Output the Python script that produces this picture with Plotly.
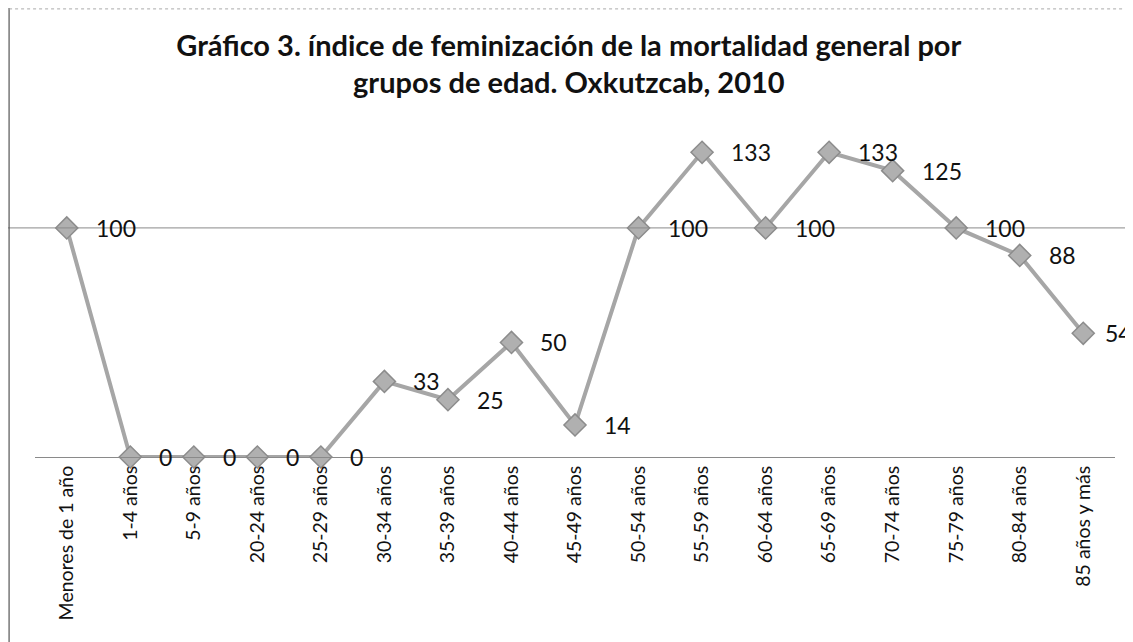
import plotly.graph_objects as go

categories = ["Menores de 1 año", "1-4 años", "5-9 años", "20-24 años", "25-29 años",
              "30-34 años", "35-39 años", "40-44 años", "45-49 años", "50-54 años",
              "55-59 años", "60-64 años", "65-69 años", "70-74 años", "75-79 años",
              "80-84 años", "85 años y más"]
values = [100, 0, 0, 0, 0, 33, 25, 50, 14, 100, 133, 100, 133, 125, 100, 88, 54]

FONT = "Lato, Open Sans, Liberation Sans"

fig = go.Figure()
fig.add_trace(go.Scatter(
    x=categories, y=values, mode="lines+markers",
    line=dict(color="#a6a6a6", width=4),
    marker=dict(symbol="diamond", size=17, color="#b0b0b0",
                line=dict(color="#8c8c8c", width=1.5)),
    cliponaxis=False, showlegend=False,
))

for i, (c, v) in enumerate(zip(categories, values)):
    fig.add_annotation(x=c, y=v, text=str(v), showarrow=False,
                       xanchor="left", yanchor="middle",
                       xshift=(27 if i < len(values) - 1 else 20),
                       font=dict(family=FONT, size=23, color="#111"))

# gridline at 100 spanning the chart area
fig.add_shape(type="line", xref="paper", yref="y", x0=-0.026, x1=1.03, y0=100, y1=100,
              line=dict(color="#8a8a8a", width=1))
# chart border (left and top)
fig.add_shape(type="line", xref="paper", yref="paper", x0=-0.024, x1=-0.024, y0=1.0, y1=-0.45,
              line=dict(color="#555", width=1.2))
fig.add_shape(type="line", xref="paper", yref="paper", x0=-0.024, x1=1.03, y0=0.998, y1=0.998,
              line=dict(color="#aaa", width=1, dash="dot"))

fig.update_layout(
    width=1133, height=642,
    margin=dict(l=27, r=26, t=0, b=193),
    paper_bgcolor="white", plot_bgcolor="white",
    title=dict(text="<b>Gráfico 3. índice de feminización de la mortalidad general por<br>grupos de edad. Oxkutzcab, 2010</b>",
               x=0.495, xanchor="center", y=0.926, yanchor="top",
               font=dict(family=FONT, size=29, color="#111")),
    xaxis=dict(type="category", range=[-0.5, 16.5], showgrid=False,
               showline=True, linecolor="#8a8a8a", linewidth=1,
               tickangle=-90, ticks="", tickfont=dict(family=FONT, size=19.5, color="#111")),
    yaxis=dict(range=[0, 196], showgrid=False, showticklabels=False, zeroline=False,
               showline=False, ticks=""),
)

fig.write_html("out.html")
